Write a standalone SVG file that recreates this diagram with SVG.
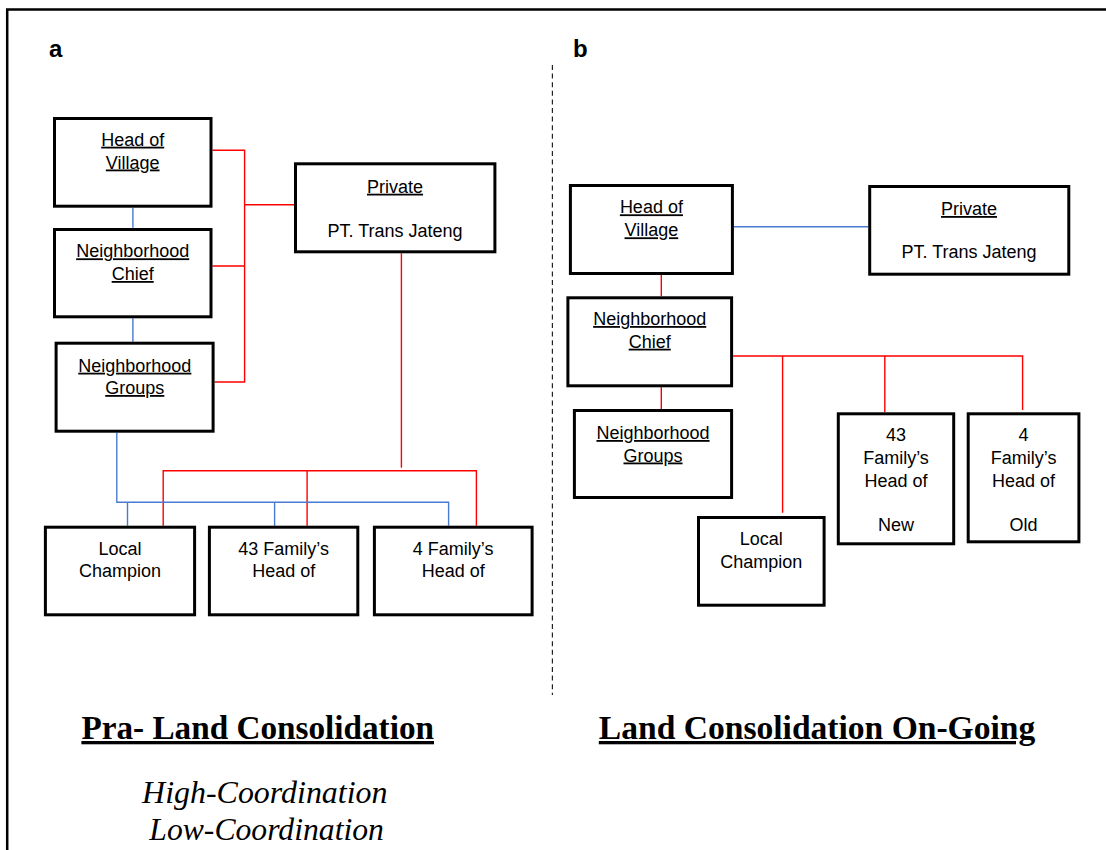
<svg xmlns="http://www.w3.org/2000/svg" width="1106" height="850" viewBox="0 0 1106 850">
  <style>
    .box { fill: #ffffff; stroke: #000000; stroke-width: 3; }
    .t { font-family: "Liberation Sans", Arial, sans-serif; font-size: 18px; text-anchor: middle; fill: #000000; }
    .u { text-decoration: underline; }
    .lbl { font-family: "Liberation Sans", Arial, sans-serif; font-size: 24px; font-weight: bold; fill: #000000; }
    .title { font-family: "Liberation Serif", "Times New Roman", serif; font-size: 33px; font-weight: bold; fill: #000000; text-decoration: underline; }
    .note { font-family: "Liberation Serif", "Times New Roman", serif; font-size: 31px; font-style: italic; fill: #000000; }
    .red { fill: none; stroke: #ff0000; stroke-width: 1.4; }
    .blue { fill: none; stroke: #4a7bd2; stroke-width: 1.4; }
  </style>

  <rect width="1106" height="850" fill="#ffffff"/>

  <!-- outer frame (open on the right and bottom) -->
  <path d="M7.2,850 V9.5 H1106" fill="none" stroke="#000000" stroke-width="2.5"/>

  <!-- panel divider -->
  <line x1="552.4" y1="65" x2="552.4" y2="695" stroke="#222222" stroke-width="1.2" stroke-dasharray="5 3.6"/>

  <!-- panel letters -->
  <text class="lbl" x="49" y="57.3">a</text>
  <text class="lbl" x="573" y="57.3">b</text>

  <!-- connectors -->
  <g id="connectors">
    <!-- panel a: red links -->
    <path class="red" d="M212.5,150.3 H244.6 V382 H214.6 M212.5,266 H244.6 M244.6,204.7 H294"/>
    <path class="red" d="M401.4,253.3 V467.7"/>
    <path class="red" d="M163.2,525.7 V470.7 H476.4 V525.7 M307.1,470.7 V525.7"/>
    <!-- panel a: blue links -->
    <path class="blue" d="M132.9,207.7 V227.7 M132.9,318.3 V341.7"/>
    <path class="blue" d="M116.8,432.7 V502.3 H448.6 V525.7 M127.5,502.3 V525.7 M274.6,502.3 V525.7"/>
    <!-- panel b: blue link -->
    <path class="blue" d="M733.9,226.7 H868.2"/>
    <!-- panel b: red links -->
    <path class="red" d="M661.3,275 V296.3 M661.3,387.3 V409"/>
    <path class="red" d="M733.1,356 H1022.6 V410 M782.6,356 V512.7 M884.8,356 V412.3"/>
  </g>

  <!-- panel a nodes -->
  <g id="a-head-of-village">
    <rect class="box" x="54.5" y="118.5" width="156.5" height="87.7"/>
    <text class="t u" x="132.7" y="145.7">Head of</text>
    <text class="t u" x="132.7" y="168.5">Village</text>
  </g>
  <g id="a-neighborhood-chief">
    <rect class="box" x="54.5" y="229.5" width="156.5" height="87.3"/>
    <text class="t u" x="132.7" y="257.3">Neighborhood</text>
    <text class="t u" x="132.7" y="280">Chief</text>
  </g>
  <g id="a-neighborhood-groups">
    <rect class="box" x="56.1" y="343.2" width="157" height="88"/>
    <text class="t u" x="134.8" y="371.7">Neighborhood</text>
    <text class="t u" x="134.8" y="394">Groups</text>
  </g>
  <g id="a-private">
    <rect class="box" x="295.5" y="163.8" width="199.4" height="88"/>
    <text class="t u" x="395" y="192.7">Private</text>
    <text class="t" x="395" y="236.7">PT. Trans Jateng</text>
  </g>
  <g id="a-local-champion">
    <rect class="box" x="45.4" y="527.2" width="149.2" height="87.6"/>
    <text class="t" x="120" y="555">Local</text>
    <text class="t" x="120" y="576.7">Champion</text>
  </g>
  <g id="a-43-family">
    <rect class="box" x="209.4" y="527.2" width="148.4" height="87.6"/>
    <text class="t" x="283.7" y="555">43 Family’s</text>
    <text class="t" x="283.7" y="576.7">Head of</text>
  </g>
  <g id="a-4-family">
    <rect class="box" x="374.4" y="527.2" width="157.7" height="87.6"/>
    <text class="t" x="453.2" y="555">4 Family’s</text>
    <text class="t" x="453.2" y="576.7">Head of</text>
  </g>

  <!-- panel b nodes -->
  <g id="b-head-of-village">
    <rect class="box" x="570.4" y="185.5" width="162" height="88"/>
    <text class="t u" x="651.4" y="213.3">Head of</text>
    <text class="t u" x="651.4" y="236.3">Village</text>
  </g>
  <g id="b-private">
    <rect class="box" x="869.7" y="186.5" width="199.1" height="87.7"/>
    <text class="t u" x="969" y="215">Private</text>
    <text class="t" x="969" y="258.3">PT. Trans Jateng</text>
  </g>
  <g id="b-neighborhood-chief">
    <rect class="box" x="567.9" y="297.8" width="163.7" height="88"/>
    <text class="t u" x="649.7" y="325">Neighborhood</text>
    <text class="t u" x="649.7" y="347.7">Chief</text>
  </g>
  <g id="b-neighborhood-groups">
    <rect class="box" x="574.4" y="410.5" width="157.2" height="87"/>
    <text class="t u" x="653" y="439">Neighborhood</text>
    <text class="t u" x="653" y="461.5">Groups</text>
  </g>
  <g id="b-local-champion">
    <rect class="box" x="698.5" y="517.5" width="125.6" height="87.7"/>
    <text class="t" x="761.3" y="545">Local</text>
    <text class="t" x="761.3" y="568">Champion</text>
  </g>
  <g id="b-43-family-new">
    <rect class="box" x="838.3" y="413.8" width="115.4" height="130"/>
    <text class="t" x="896" y="440.7">43</text>
    <text class="t" x="896" y="464">Family’s</text>
    <text class="t" x="896" y="487.3">Head of</text>
    <text class="t" x="896" y="530.7">New</text>
  </g>
  <g id="b-4-family-old">
    <rect class="box" x="968.2" y="413.8" width="110.7" height="128"/>
    <text class="t" x="1023.6" y="440.7">4</text>
    <text class="t" x="1023.6" y="464">Family’s</text>
    <text class="t" x="1023.6" y="487.3">Head of</text>
    <text class="t" x="1023.6" y="530.7">Old</text>
  </g>

  <!-- captions -->
  <text class="title" x="81.4" y="739" textLength="352.6" lengthAdjust="spacingAndGlyphs">Pra- Land Consolidation</text>
  <text class="title" x="598.8" y="739" textLength="436.5" lengthAdjust="spacingAndGlyphs">Land Consolidation On-Going</text>
  <text class="note" x="142.1" y="803" textLength="245.4" lengthAdjust="spacingAndGlyphs">High-Coordination</text>
  <text class="note" x="149.3" y="840" textLength="234.6" lengthAdjust="spacingAndGlyphs">Low-Coordination</text>
</svg>
